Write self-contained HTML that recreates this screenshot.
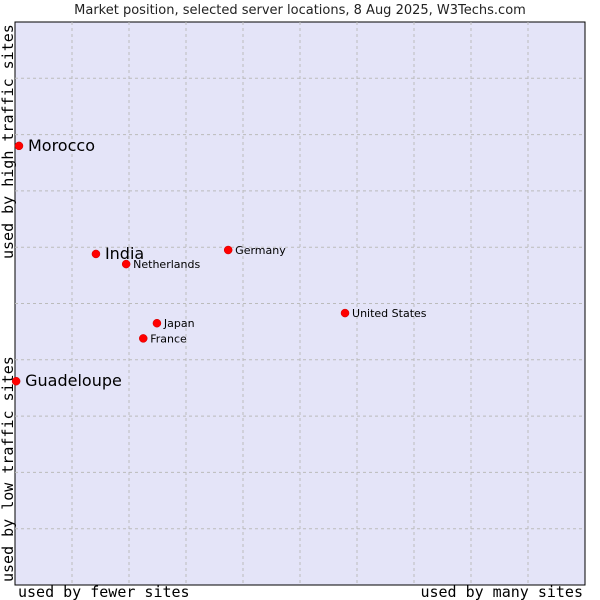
<!DOCTYPE html>
<html><head><meta charset="utf-8"><style>
body{margin:0;background:#fff;}
svg{display:block;font-family:"DejaVu Sans","Liberation Sans",sans-serif;}
</style></head><body>
<svg id="chart" width="600" height="600">
<text x="300" y="14" text-anchor="middle" font-size="13" fill="#222">Market position, selected server locations, 8 Aug 2025, W3Techs.com</text>
<rect x="15" y="22" width="570" height="563" fill="#e4e4f8" stroke="#000" stroke-width="1"/>
<g id="grid"></g>
<g id="marks"></g>
<text x="18" y="597" font-family="DejaVu Sans Mono,Liberation Mono,monospace" font-size="15">used by fewer sites</text>
<text x="583" y="597" text-anchor="end" font-family="DejaVu Sans Mono,Liberation Mono,monospace" font-size="15">used by many sites</text>
<text transform="translate(13,582) rotate(-90)" font-family="DejaVu Sans Mono,Liberation Mono,monospace" font-size="15">used by low traffic sites</text>
<text transform="translate(13,259) rotate(-90)" font-family="DejaVu Sans Mono,Liberation Mono,monospace" font-size="15">used by high traffic sites</text>
</svg>
<script>
const countries=["Morocco","India","Netherlands","Germany","United States","Japan","France","Guadeloupe"];
const xValues=[0.7,14.2,19.5,37.4,57.9,24.9,22.5,0.2];
const yValues=[78.0,58.8,57.0,59.5,48.3,46.5,43.8,36.2];
const highlighted=[true,true,false,false,false,false,false,true];
const NS="http://www.w3.org/2000/svg";
const X0=15,X1=585,Y0=585,Y1=22;
const sx=v=>X0+(X1-X0)*v/100, sy=v=>Y0-(Y0-Y1)*v/100;
const grid=document.getElementById('grid');
for(let i=1;i<10;i++){
  const v=document.createElementNS(NS,'line');
  v.setAttribute('x1',sx(i*10));v.setAttribute('x2',sx(i*10));v.setAttribute('y1',Y1);v.setAttribute('y2',Y0);
  v.setAttribute('stroke','#bbb');v.setAttribute('stroke-dasharray','3,3');
  
  
  grid.appendChild(v);
  const h=document.createElementNS(NS,'line');
  h.setAttribute('y1',sy(i*10));h.setAttribute('y2',sy(i*10));h.setAttribute('x1',X0);h.setAttribute('x2',X1);
  h.setAttribute('stroke','#bbb');h.setAttribute('stroke-dasharray','3,3');
  
  
  grid.appendChild(h);
}
const marks=document.getElementById('marks');
countries.forEach((c,i)=>{
  const x=sx(xValues[i]),y=sy(yValues[i]);
  const p=document.createElementNS(NS,'circle');
  p.setAttribute('cx',x);p.setAttribute('cy',y);p.setAttribute('r',4);p.setAttribute('fill','#f00');p.setAttribute('stroke','#c00');p.setAttribute('stroke-width','0.5');
  
  
  marks.appendChild(p);
  const t=document.createElementNS(NS,'text');
  const big=highlighted[i];
  t.setAttribute('x',x+(big?9:7));t.setAttribute('y',y+(big?5:4));
  t.setAttribute('font-size',big?16:11);t.setAttribute('fill','#000');
  t.textContent=c;
  
  
  marks.appendChild(t);
});
</script>
</body></html>
